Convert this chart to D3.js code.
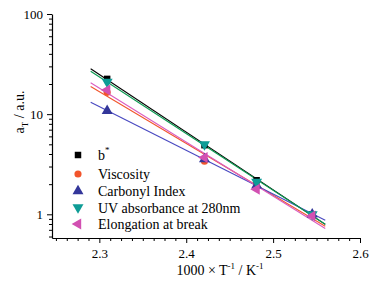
<!DOCTYPE html>
<html>
<head>
<meta charset="utf-8">
<script src="https://cdn.jsdelivr.net/npm/d3@7"></script>
<style>
  body { margin: 0; background: #fff; }
  svg { font-family: "Liberation Serif", "Times New Roman", serif; }
</style>
</head>
<body>
<div id="chart"></div>
<script>
// 1000/T values (K^-1) for 160, 140, 130, 120 °C
const invT = [2.309, 2.421, 2.481, 2.545];
const bStar = [22.5, 4.9, 2.19, 1.0];
const viscosity = [16.5, 3.39, 1.9, 1.0];
const carbonyl = [10.8, 3.55, 1.95, 1.0];
const uvAbs = [21.0, 5.0, 2.1, 1.0];
const elongation = [17.4, 3.7, 1.78, 0.96];

const xTicks = [2.3, 2.4, 2.5, 2.6];
const yTicks = [1, 10, 100];

const series = [
  { name: "b*", values: bStar, symbol: d3.symbolSquare, fill: "#000000", line: "#000000" },
  { name: "Viscosity", values: viscosity, symbol: d3.symbolCircle, fill: "#F2552C", line: "#F2552C" },
  { name: "Carbonyl Index", values: carbonyl, symbol: d3.symbolTriangle, fill: "#33369A", line: "#4848C0" },
  { name: "UV absorbance at 280nm", values: uvAbs, symbol: "down", fill: "#0E9C96", line: "#0A9A50" },
  { name: "Elongation at break", values: elongation, symbol: "left", fill: "#D250B2", line: "#DA5CC0" }
];

const width = 375, height = 285;
const margin = { top: 14, right: 15, bottom: 47, left: 52 };
const svg = d3.select("#chart").append("svg")
  .attr("width", width)
  .attr("height", height);

const x = d3.scaleLinear().domain([2.2455, 2.6]).range([margin.left, width - margin.right]);
const y = d3.scaleLog().domain([0.58, 100]).range([height - margin.bottom, margin.top]);

// fit lines (log-linear regression), drawn from 2.29 to 2.56
function fit(xs, ys) {
  const ly = ys.map(v => Math.log10(v));
  const mx = d3.mean(xs), my = d3.mean(ly);
  let num = 0, den = 0;
  xs.forEach((xv, i) => { num += (xv - mx) * (ly[i] - my); den += (xv - mx) ** 2; });
  const b = num / den;
  return xv => Math.pow(10, my + b * (xv - mx));
}
const lineRange = [2.29, 2.56];
series.forEach(s => {
  const f = fit(invT, s.values);
  svg.append("line")
    .attr("x1", x(lineRange[0])).attr("y1", y(f(lineRange[0])))
    .attr("x2", x(lineRange[1])).attr("y2", y(f(lineRange[1])))
    .attr("stroke", s.line)
    .attr("stroke-width", 1.1);
});

// markers
function symbolPath(sym, size) {
  if (sym === "down" || sym === "left") return d3.symbol(d3.symbolTriangle, size)();
  return d3.symbol(sym, size)();
}
function symbolRot(sym) {
  if (sym === "down") return 180;
  if (sym === "left") return -90;
  return 0;
}
function symbolSize(sym) {
  if (sym === d3.symbolCircle) return 40;
  if (sym === d3.symbolSquare) return 42;
  return 52;
}
series.forEach(s => {
  svg.append("g").selectAll("path")
    .data(s.values)
    .join("path")
    .attr("d", symbolPath(s.symbol, symbolSize(s.symbol)))
    .attr("transform", (d, i) => `translate(${x(invT[i])},${y(d)}) rotate(${symbolRot(s.symbol)})`)
    .attr("fill", s.fill);
});

// x axis
const xMinor = d3.range(2.25, 2.6001, 0.0125).filter(v => !xTicks.some(t => Math.abs(t - v) < 1e-6));
svg.append("g")
  .attr("transform", `translate(0,${height - margin.bottom})`)
  .call(d3.axisBottom(x).tickValues(xMinor).tickSize(3).tickFormat(""))
  .call(g => g.select(".domain").remove());
svg.append("g")
  .attr("transform", `translate(0,${height - margin.bottom})`)
  .call(d3.axisBottom(x).tickValues(xTicks).tickSize(5).tickSizeOuter(0).tickPadding(6).tickFormat(d3.format(".1f")))
  .call(g => g.selectAll("text").attr("font-size", 13).attr("fill", "#000"));

// y axis
const yMinor = [0.6, 0.7, 0.8, 0.9];
[1, 10].forEach(dec => d3.range(2, 10).forEach(k => yMinor.push(dec * k)));
svg.append("g")
  .attr("transform", `translate(${margin.left},0)`)
  .call(d3.axisLeft(y).tickValues(yMinor).tickSize(3).tickFormat(""))
  .call(g => g.select(".domain").remove());
svg.append("g")
  .attr("transform", `translate(${margin.left},0)`)
  .call(d3.axisLeft(y).tickValues(yTicks).tickSize(5).tickSizeOuter(0).tickPadding(4).tickFormat(d3.format("d")))
  .call(g => g.selectAll("text").attr("font-size", 13).attr("fill", "#000"));

svg.selectAll(".domain").attr("stroke-width", 1.2);
svg.selectAll(".tick text").attr("font-family", "Liberation Serif, serif");

// axis titles
const xt = svg.append("text")
  .attr("x", 220).attr("y", 275)
  .attr("text-anchor", "middle")
  .attr("font-size", 14);
xt.append("tspan").text("1000 × T");
xt.append("tspan").attr("font-size", 9).attr("dy", -6).text("-1");
xt.append("tspan").attr("dy", 6).text(" / K");
xt.append("tspan").attr("font-size", 9).attr("dy", -6).text("-1");

const yt = svg.append("text")
  .attr("transform", "translate(24,112) rotate(-90)")
  .attr("text-anchor", "middle")
  .attr("font-size", 14);
yt.append("tspan").text("a");
yt.append("tspan").attr("font-size", 9).attr("dy", 4).text("T");
yt.append("tspan").attr("dy", -4).text(" / a.u.");

// legend
const legendY = [155, 174, 191, 207.5, 224];
const legend = svg.append("g");
series.forEach((s, i) => {
  const gy = legendY[i];
  legend.append("path")
    .attr("d", symbolPath(s.symbol, symbolSize(s.symbol)))
    .attr("transform", `translate(78,${gy}) rotate(${symbolRot(s.symbol)})`)
    .attr("fill", s.fill);
  const t = legend.append("text")
    .attr("x", 98).attr("y", gy + 5)
    .attr("font-size", 14);
  if (s.name === "b*") {
    t.append("tspan").text("b");
    t.append("tspan").attr("font-size", 9).attr("dy", -7).text("*");
  } else {
    t.text(s.name);
  }
});
</script>
</body>
</html>
